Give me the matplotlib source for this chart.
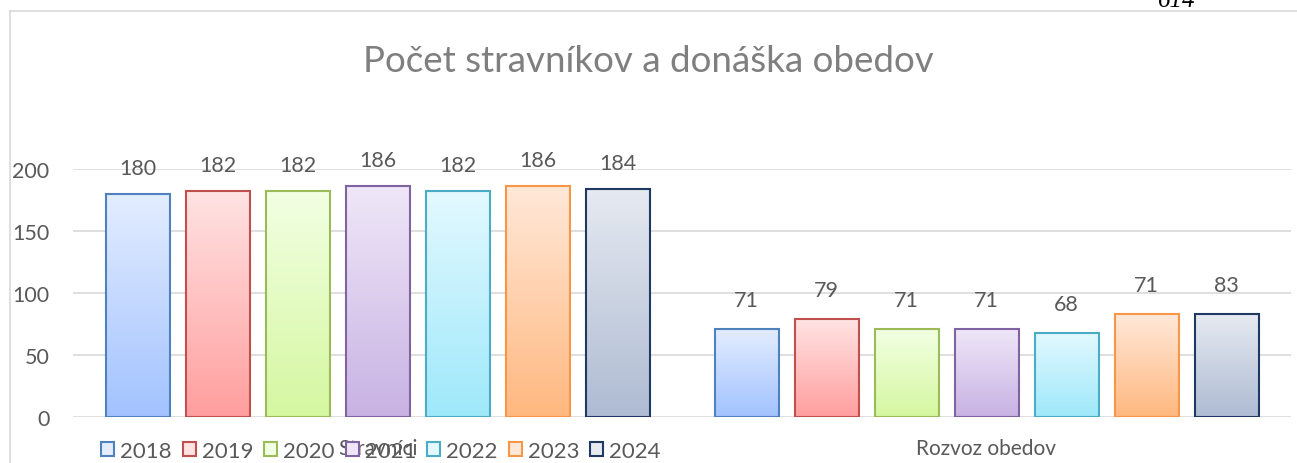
import numpy as np
import matplotlib.pyplot as plt
from matplotlib.colors import LinearSegmentedColormap
from matplotlib.lines import Line2D

# data
categories = ['Stravníci', 'Rozvoz obedov']
years = ['2018', '2019', '2020', '2021', '2022', '2023', '2024']
values = [
    [180, 182, 182, 186, 182, 186, 184],   # 2018..2024 for Stravníci
    [71, 79, 71, 71, 68, 83, 83],          # Rozvoz obedov
]
labels = [
    ['180', '182', '182', '186', '182', '186', '184'],
    ['71', '79', '71', '71', '68', '71', '83'],
]
yticks = [0, 50, 100, 150, 200]

tops = ['#E3EDFF', '#FFE3E3', '#F2FFE3', '#EFE7F8', '#E3F9FF', '#FFE8D8', '#E6EAF1']
bottoms = ['#A2C2FF', '#FF9E9E', '#D5F7A0', '#C8B2E3', '#9EE8FA', '#FFB880', '#AEBBD2']
edges = ['#4F81BD', '#C0504D', '#9BBB59', '#8064A2', '#4BACC6', '#F79646', '#1F3864']

plt.rcParams['font.family'] = ['Lato', 'DejaVu Sans']
fig = plt.figure(figsize=(12.97, 4.64), dpi=100)
ax = fig.add_axes([73 / 1297, 1 - 418 / 464, (1291 - 73) / 1297, (418 - 170) / 464])

step = 80 / 609
width = 64 / 609
grad = np.linspace(1, 0, 256).reshape(-1, 1)
for g, cat in enumerate(categories):
    for i, yr in enumerate(years):
        xc = g + (i - 3) * step
        h = values[g][i]
        cmap = LinearSegmentedColormap.from_list('c', [bottoms[i], tops[i]])
        ax.imshow(grad, extent=[xc - width / 2, xc + width / 2, 0, h], aspect='auto',
                  cmap=cmap, origin='upper', zorder=2)
        ax.bar(xc, h, width=width, facecolor='none', edgecolor=edges[i], linewidth=1.5,
               zorder=3, label=yr if g == 0 else None)
        ax.text(xc, h + 13 + 2 * g, labels[g][i], ha='center', va='bottom', fontsize=15.5,
                color='#595959', clip_on=False)

ax.set_xlim(-0.5, 1.5)
ax.set_ylim(0, 200)
ax.set_yticks(yticks)
ax.set_yticklabels([str(t) for t in yticks], fontsize=15.5, color='#595959')
ax.tick_params(axis='y', length=0, pad=17)
ax.set_xticks([0, 1])
ax.set_xticklabels(categories, fontsize=15, color='#595959')
ax.tick_params(axis='x', length=0, pad=15)
ax.grid(axis='y', color='#D9D9D9', linewidth=1.2, zorder=0)
for s in ax.spines.values():
    s.set_visible(False)

# legend
handles = [plt.Rectangle((0, 0), 1, 1, facecolor=tops[i], edgecolor=edges[i], linewidth=1.5)
           for i in range(len(years))]
fig.legend(handles, years, loc='center left', bbox_to_anchor=(101 / 1297, 1 - 452 / 464),
           ncol=7, frameon=False, fontsize=16, handlelength=0.6, handleheight=0.6,
           handletextpad=0.25, columnspacing=0.5, labelcolor='#595959', borderaxespad=0,
           borderpad=0)

fig.text(0.5, 1 - 61 / 464, 'Počet stravníkov a donáška obedov', ha='center', va='center',
         fontsize=26.5, color='#7F7F7F')

# page frame and cut page number
fig.add_artist(Line2D([10 / 1297, 10 / 1297], [0, 1 - 12 / 464], color='#D9D9D9', lw=1.2))
fig.add_artist(Line2D([10 / 1297, 1], [1 - 12 / 464, 1 - 12 / 464], color='#D9D9D9', lw=1.2))
fig.text(1158 / 1297, 1 - 7 / 464, '614', family='Liberation Serif', style='italic',
         fontsize=18, color='#000000', va='baseline')

fig.savefig('out.png', dpi=100)
